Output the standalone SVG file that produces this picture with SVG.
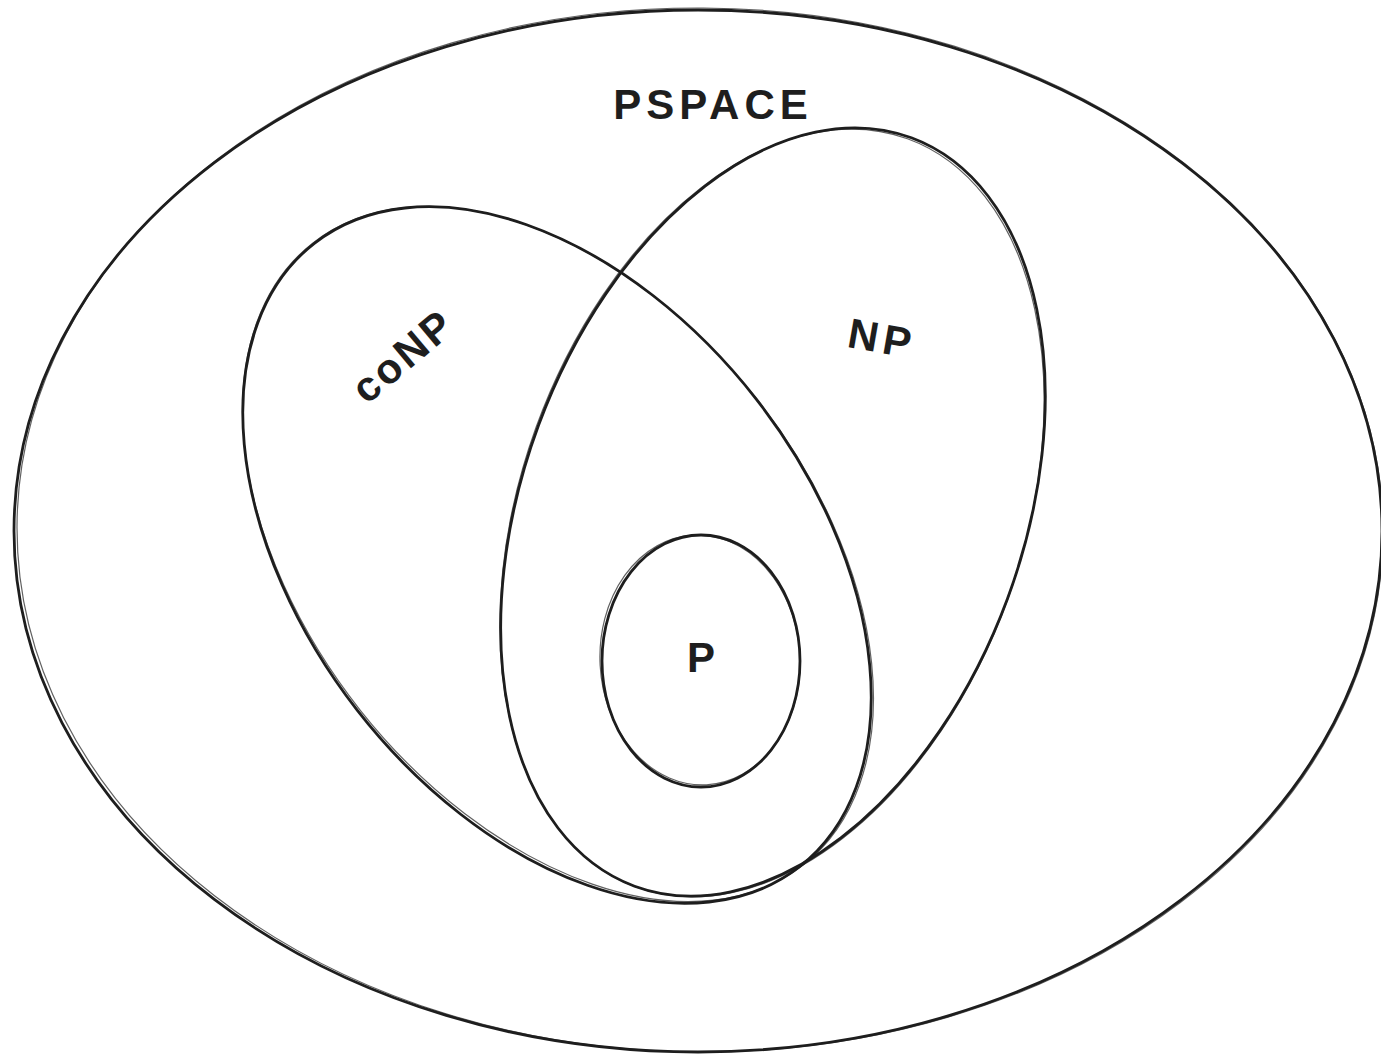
<svg xmlns="http://www.w3.org/2000/svg" width="1381" height="1058" viewBox="0 0 1381 1058">
<style>
.sh{fill:none;stroke:#1e1e1e;stroke-width:2.8;stroke-linecap:round}
.sh2{fill:none;stroke:#1e1e1e;stroke-width:1.2;stroke-linecap:round;opacity:0.7}
.lb{font-family:"Liberation Sans",Arial,sans-serif;font-size:42px;fill:#1e1e1e;text-anchor:middle;font-weight:bold}
</style>
<rect width="1381" height="1058" fill="#ffffff"/>
<g id="pspace">
<ellipse class="sh" cx="698" cy="531" rx="684" ry="521"/>
<ellipse class="sh2" cx="700" cy="530" rx="683" ry="522" transform="rotate(0.4 700 530)"/>
<text class="lb" x="713" y="119" letter-spacing="5">PSPACE</text>
</g>
<g id="conp">
<ellipse class="sh" cx="557" cy="555" rx="395" ry="253" transform="rotate(52.1 557 555)"/>
<ellipse class="sh2" cx="558" cy="554" rx="396" ry="252" transform="rotate(51.6 558 554)"/>
<text class="lb" x="404" y="370" transform="rotate(-40 404 357)" letter-spacing="3">coNP</text>
</g>
<g id="np">
<ellipse class="sh" cx="773" cy="512" rx="399" ry="250" transform="rotate(-69.7 773 512)"/>
<ellipse class="sh2" cx="772" cy="513" rx="398" ry="251" transform="rotate(-70.1 772 513)"/>
<text class="lb" x="882" y="353" transform="rotate(10 882 340)" letter-spacing="5">NP</text>
</g>
<g id="p">
<ellipse class="sh" cx="701" cy="661" rx="99" ry="126"/>
<ellipse class="sh2" cx="700" cy="660" rx="100" ry="125" transform="rotate(-3 700 660)"/>
<text class="lb" x="701" y="672">P</text>
</g>
<g id="connectors"></g>
</svg>
